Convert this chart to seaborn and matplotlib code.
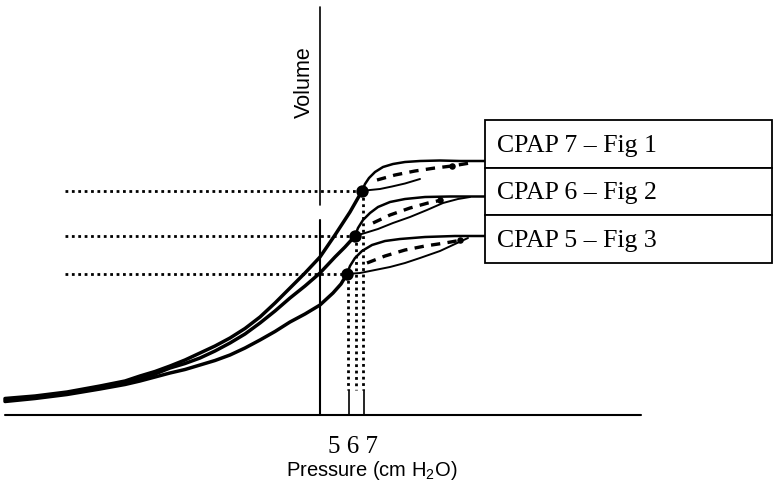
import matplotlib
matplotlib.use('Agg')
import matplotlib.pyplot as plt
import seaborn as sns
import pandas as pd
from matplotlib.patches import Rectangle

sns.set_theme(style='white')
plt.rcParams['font.family'] = ['Liberation Sans', 'DejaVu Sans']
plt.rcParams['mathtext.fontset'] = 'custom'
plt.rcParams['mathtext.rm'] = 'Liberation Sans'

# ---- data (schematic coordinates; y grows downward) ----
fig_labels = ['CPAP 7 – Fig 1', 'CPAP 6 – Fig 2', 'CPAP 5 – Fig 3']
pressure_tick_text = '5 6 7'

# main inflation curves
curve7_x = [5, 35, 67, 100, 125, 140, 155, 170, 185, 200, 215, 230, 245, 260, 275, 290, 305, 320, 335, 350, 362]
curve7_y = [398.5, 396, 392, 386, 381, 376, 371.5, 366, 360, 353, 346, 338, 328.5, 317, 303, 288, 273, 257, 235, 212, 191]
curve6_x = [5, 35, 67, 100, 125, 140, 155, 170, 185, 200, 215, 230, 245, 260, 275, 290, 305, 320, 335, 345, 355]
curve6_y = [400, 397, 393, 387, 382, 379, 374, 368, 363.5, 358, 351, 343, 334, 323, 311, 298, 286, 273, 257, 247, 236]
curve5_x = [5, 35, 67, 100, 125, 140, 155, 170, 185, 200, 215, 230, 245, 260, 275, 290, 305, 320, 333, 341, 347]
curve5_y = [401.5, 398.5, 394.5, 389, 384.5, 381, 377, 373, 369.5, 365, 360.5, 355, 348, 340, 331.5, 322, 314, 305, 293, 284, 274]

# operating points (CPAP 7, 6, 5)
point_x = [362, 355, 347]
point_y = [191, 236, 274]

# loops: upper branch, lower branch, dashed middle
loop7_up_x = [362, 365, 369, 375, 383, 393, 405, 420, 440, 460, 485]
loop7_up_y = [191, 184, 178, 172, 167, 164, 162, 161, 160.5, 161, 161]
loop7_lo_x = [362, 370, 380, 392, 405, 420]
loop7_lo_y = [191, 190, 189, 186.5, 183.5, 179]
loop7_mid_x = [377, 395, 415, 435, 452, 470]
loop7_mid_y = [180, 175, 171, 168, 166, 163]

loop6_up_x = [355, 358, 363, 370, 378, 390, 405, 425, 450, 485]
loop6_up_y = [236, 228, 220, 213, 207, 202, 199, 197, 196.5, 196.5]
loop6_lo_x = [355, 365, 378, 393, 410, 427, 443, 458, 470]
loop6_lo_y = [236, 233, 229, 223, 217, 210, 203, 199, 197]
loop6_mid_x = [373, 390, 410, 428, 442]
loop6_mid_y = [223, 215, 208, 203, 200]

loop5_up_x = [347, 350, 355, 362, 372, 385, 400, 425, 455, 485]
loop5_up_y = [274, 266, 258, 251, 245, 241, 239, 237, 236, 236]
loop5_lo_x = [347, 360, 375, 390, 405, 420, 440, 455, 468]
loop5_lo_y = [274, 273, 270, 267, 263, 258, 251, 244, 238]
loop5_mid_x = [367, 385, 405, 425, 445, 462]
loop5_mid_y = [263, 256, 250, 246, 243, 240]

# dark blobs at right end of the loop dashes
blob_x = [452, 440, 460]
blob_y = [166, 200, 240]

# reference (dotted) lines
hline_start_x = 65
vline_x = [363, 356, 348]
vline_bottom_y = 390

# axes
baseline_y = 415
baseline_x = [5, 641]
volume_axis_x = 320
volume_axis_top = [7, 205]
volume_axis_bottom = [220, 415]
tick_x = [349, 364]

# legend box rows
box_left, box_right = 485, 772
box_rows_y = [120, 168, 215, 263]

# ---- drawing ----
fig = plt.figure(figsize=(7.73, 4.96), dpi=100)
ax = fig.add_axes([0, 0, 1, 1])
ax.set_xlim(0, 773)
ax.set_ylim(496, 0)
ax.axis('off')


def line(xs, ys, lw=1.5, ls='-'):
    df = pd.DataFrame({'x': xs, 'y': ys})
    sns.lineplot(data=df, x='x', y='y', sort=False, estimator=None,
                 color='black', linewidth=lw, linestyle=ls, ax=ax,
                 solid_capstyle='round', solid_joinstyle='round',
                 dash_capstyle='butt')


# axes lines
line(baseline_x, [baseline_y, baseline_y], lw=1.5)
line([volume_axis_x, volume_axis_x], volume_axis_top, lw=1.2)
line([volume_axis_x, volume_axis_x], volume_axis_bottom, lw=1.5)
for tx in tick_x:
    line([tx, tx], [vline_bottom_y, baseline_y], lw=1.2)

# dotted reference lines
dot_ls = (0, (1.0, 1.3))
for px, py in zip(point_x, point_y):
    line([hline_start_x, px], [py, py], lw=2.0, ls=dot_ls)
for vx, py in zip(vline_x, point_y):
    line([vx, vx], [py, vline_bottom_y], lw=2.0, ls=dot_ls)

# main curves
for cx, cy in [(curve7_x, curve7_y), (curve6_x, curve6_y), (curve5_x, curve5_y)]:
    line(cx, cy, lw=2.5)

# loops
for ux, uy, lx, ly, mx, my in [
        (loop7_up_x, loop7_up_y, loop7_lo_x, loop7_lo_y, loop7_mid_x, loop7_mid_y),
        (loop6_up_x, loop6_up_y, loop6_lo_x, loop6_lo_y, loop6_mid_x, loop6_mid_y),
        (loop5_up_x, loop5_up_y, loop5_lo_x, loop5_lo_y, loop5_mid_x, loop5_mid_y)]:
    line(ux, uy, lw=1.8)
    line(lx, ly, lw=1.4)
    line(mx, my, lw=2.4, ls=(0, (2.8, 2.2)))

# operating points and loop-end blobs
sns.scatterplot(x=point_x, y=point_y, color='black', s=80, edgecolor='black',
                linewidth=0, ax=ax, zorder=5)
sns.scatterplot(x=blob_x, y=blob_y, color='black', s=22, marker='o',
                edgecolor='black', linewidth=0, ax=ax, zorder=5)

# legend box
for i, lab in enumerate(fig_labels):
    top, bot = box_rows_y[i], box_rows_y[i + 1]
    ax.add_patch(Rectangle((box_left, top), box_right - box_left, bot - top,
                           fill=True, facecolor='white', edgecolor='black',
                           linewidth=1.3, zorder=6))
    ax.text(box_left + 12, (top + bot) / 2 + 2, lab, family='Liberation Serif',
            fontsize=18.5, va='center', ha='left', color='black', zorder=7)

# texts
ax.text(304, 82, 'Volume', rotation=90, fontsize=15.5, ha='center', va='center',
        color='black')
ax.text(353, 447, pressure_tick_text, family='Liberation Serif', fontsize=18,
        ha='center', va='center', color='black')
ax.text(372, 471, r'Pressure (cm H$_\mathregular{2}$O)', fontsize=14.5,
        ha='center', va='center', color='black')

fig.savefig('out.png', dpi=100, facecolor='white')
